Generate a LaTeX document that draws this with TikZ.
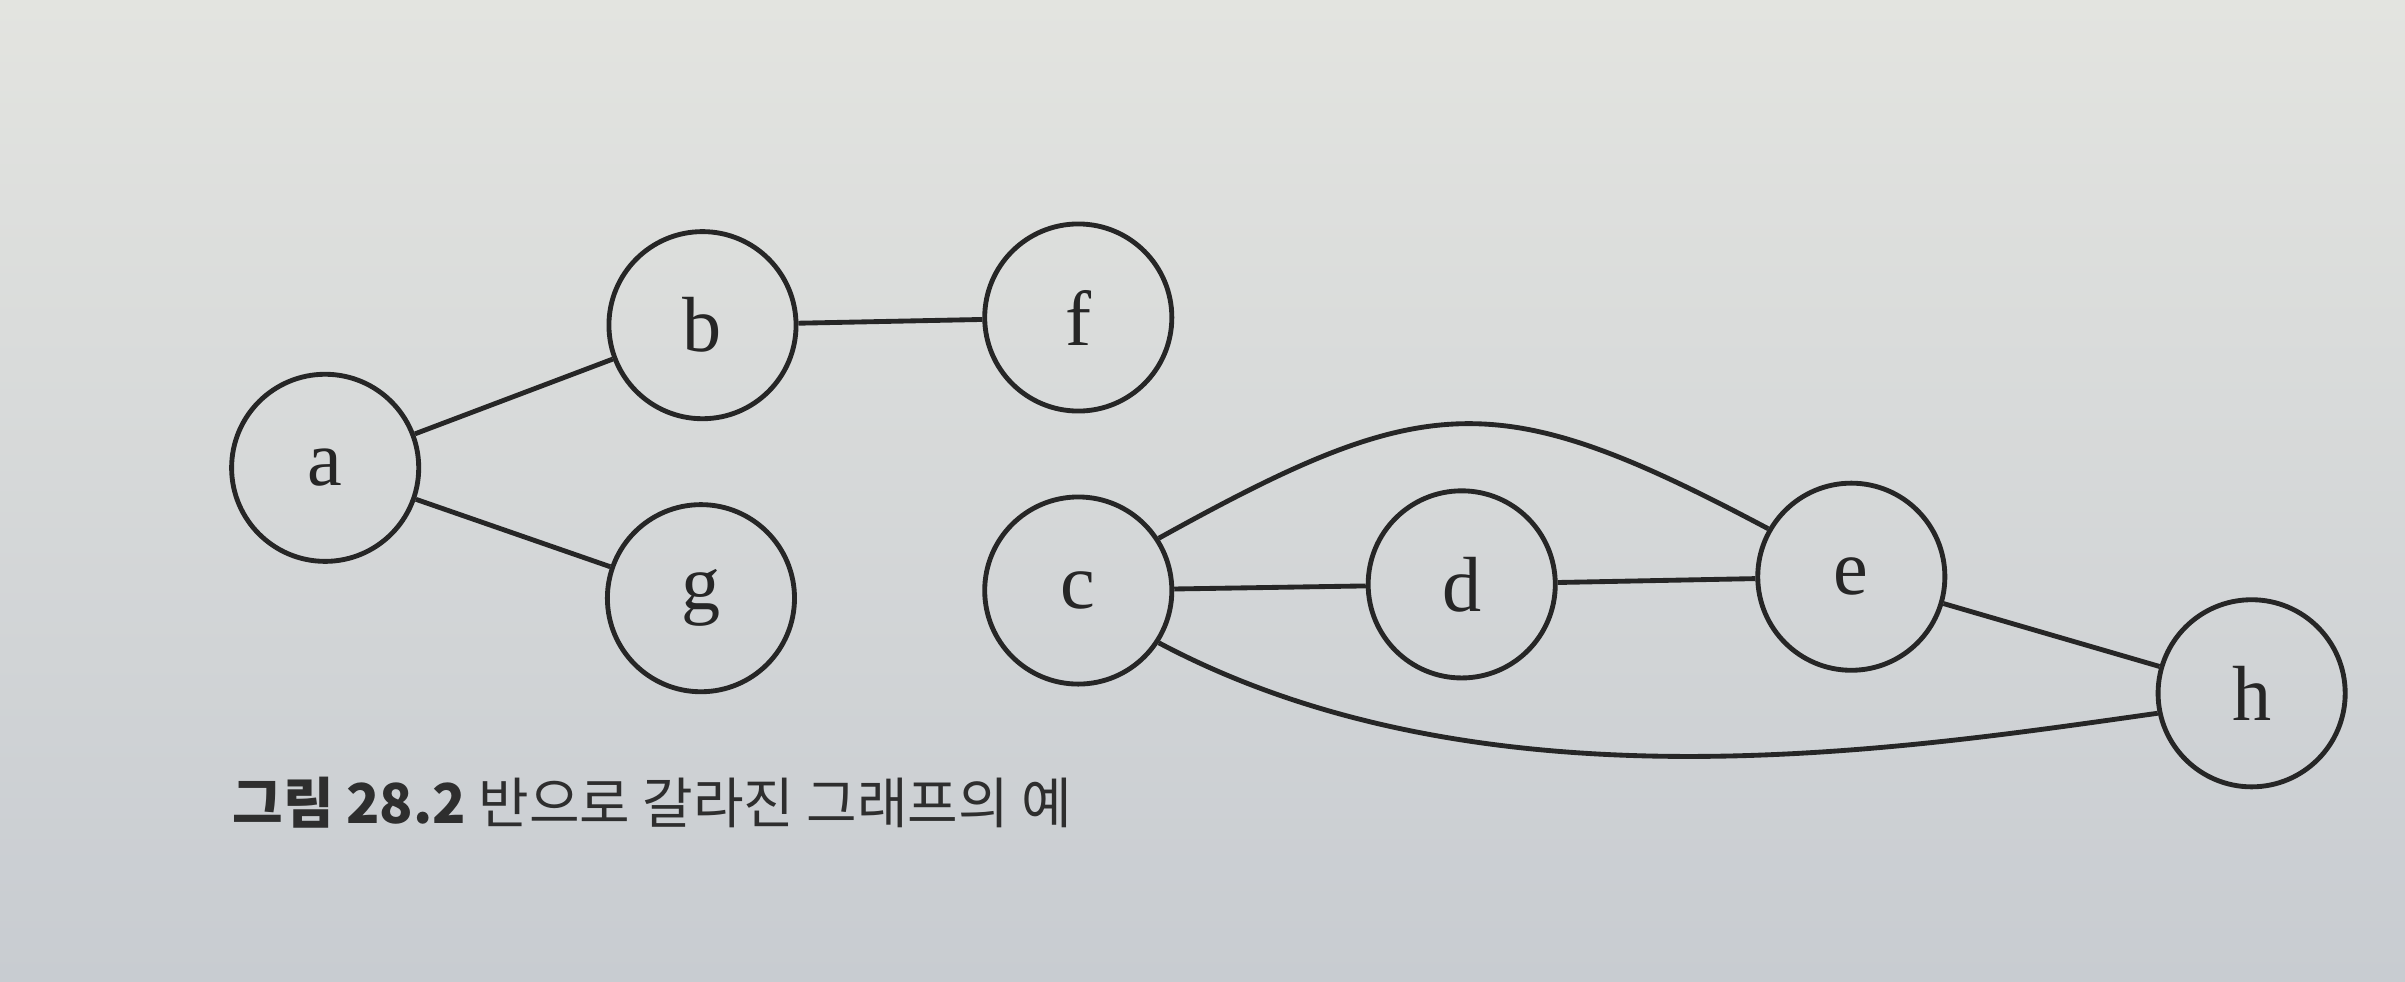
\documentclass[tikz,border=0pt]{standalone}
\usepackage{fontspec}
\setmainfont{Liberation Serif}
\newfontfamily\kr{Noto Sans CJK KR}
\definecolor{ink}{HTML}{262626}
\definecolor{captionink}{HTML}{2E2E2E}
\definecolor{papertop}{HTML}{E3E4E0}
\definecolor{papermid}{HTML}{D2D6DA}
\definecolor{paperbot}{HTML}{C8CCD1}
\tikzset{
  vertex/.style={circle, draw=ink, line width=0.9pt, minimum size=1.22cm, inner sep=0pt,
                 font=\fontsize{14.5}{16}\selectfont, text=ink},
  edge/.style={draw=ink, line width=0.9pt},
  caption/.style={font=\kr\fontsize{10.2}{12}\selectfont, text=captionink, inner sep=0pt}
}
\begin{document}
\begin{tikzpicture}[x=1cm,y=1cm]
  \useasboundingbox (0,0) rectangle (15.68,6.40);
  \shade[top color=papertop, middle color=papermid, bottom color=paperbot] (0,0) rectangle (15.68,6.40);

  \node[vertex] (a) at (2.12,3.35) {a};
  \node[vertex] (b) at (4.58,4.28) {b};
  \node[vertex] (f) at (7.03,4.33) {f};
  \node[vertex] (g) at (4.57,2.50) {g};
  \node[vertex] (c) at (7.03,2.55) {c};
  \node[vertex] (d) at (9.53,2.59) {d};
  \node[vertex] (e) at (12.07,2.64) {e};
  \node[vertex] (h) at (14.68,1.88) {h};

  \draw[edge] (a) -- (b);
  \draw[edge] (a) -- (g);
  \draw[edge] (b) -- (f);
  \draw[edge] (c) -- (d);
  \draw[edge] (d) -- (e);
  \draw[edge] (e) -- (h);
  \draw[edge] (c.33) .. controls +(29:2.0) and +(152:2.0) .. (e.150);
  \draw[edge] (c.-33) .. controls +(-28:2.4) and +(188:1.7) .. (h.192);

  \node[caption, anchor=base west] (cap) at (1.51,1.03)
    {\textbf{그림 28.2} 반으로 갈라진 그래프의 예};
\end{tikzpicture}
\end{document}
